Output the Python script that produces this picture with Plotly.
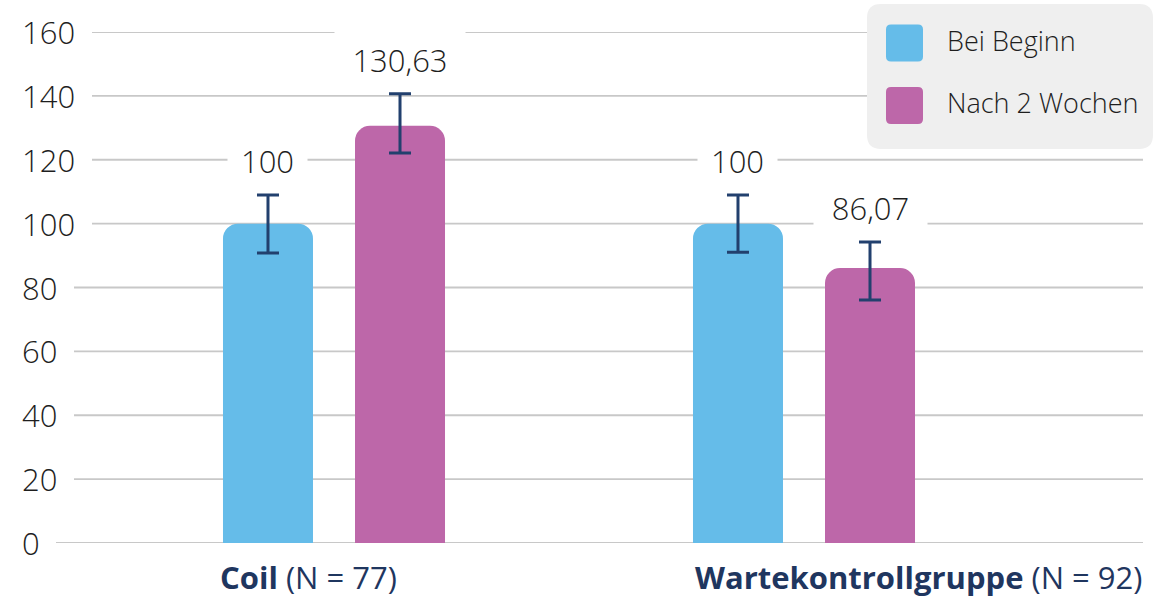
import plotly.graph_objects as go

# --- data ---
groups = ["Coil", "Wartekontrollgruppe"]
group_n = [77, 92]
series_names = ["Bei Beginn", "Nach 2 Wochen"]
bei_beginn = [100, 100]
nach_2_wochen = [130.63, 86.07]
err_beginn_plus = [9, 9]
err_beginn_minus = [9.2, 9]
err_nach_plus = [10, 8.2]
err_nach_minus = [8.5, 10]
y_ticks = [0, 20, 40, 60, 80, 100, 120, 140, 160]

# --- canvas geometry (pixels) ---
W, H = 1169, 597
ML, MR, MT, MB = 22, 26, 32, 54
PW, PH = W - ML - MR, H - MT - MB


def px(x):
    return (x - ML) / PW


def py(y):
    return (H - MB - y) / PH


def fmt(v):
    s = f"{v:.2f}".rstrip("0").rstrip(".")
    return s.replace(".", ",")


BLUE = "#65bce9"
MAGENTA = "#bd67a9"
NAVY = "#22406e"
TEXT = "#1e1e1e"
FONT = "Open Sans"

fig = go.Figure()

bar_w = 0.1915
offsets = [-0.2362, 0.0447]
for name, vals, ep, em, col, off in [
    (series_names[0], bei_beginn, err_beginn_plus, err_beginn_minus, BLUE, offsets[0]),
    (series_names[1], nach_2_wochen, err_nach_plus, err_nach_minus, MAGENTA, offsets[1]),
]:
    fig.add_trace(go.Bar(
        x=list(range(len(groups))), y=vals, name=name,
        width=bar_w, offset=off,
        marker=dict(color=col, line=dict(width=0), cornerradius=15),
        error_y=dict(type="data", array=ep, arrayminus=em, symmetric=False,
                     color=NAVY, thickness=3, width=11),
        showlegend=False, hoverinfo="skip",
    ))

shapes = []
annotations = []

# horizontal grid lines, each starting just after its left-aligned label
digit_w, gap = 18, 16
for t in y_ticks:
    lab = str(t)
    x0 = ML + len(lab) * digit_w + gap
    shapes.append(dict(type="line", xref="paper", yref="y",
                       x0=px(x0), x1=1, y0=t, y1=t,
                       line=dict(color="#c8c8c8", width=1.8), layer="below"))
    annotations.append(dict(xref="paper", yref="y", x=px(20), y=t,
                            text=lab, showarrow=False,
                            xanchor="left", yanchor="middle",
                            font=dict(family=FONT, size=31, color=TEXT, weight=300)))

# value labels above the error bars, on a white plate that hides the grid
for vals, ep, off in [(bei_beginn, err_beginn_plus, offsets[0]),
                      (nach_2_wochen, err_nach_plus, offsets[1])]:
    for i, v in enumerate(vals):
        lab = fmt(v)
        annotations.append(dict(xref="x", yref="y", x=i + off + bar_w / 2,
                                y=v + ep[i], yshift=34, text=lab,
                                showarrow=False, xanchor="center", yanchor="middle",
                                width=len(lab) * 17 + 26, height=58,
                                bgcolor="white", borderpad=1,
                                font=dict(family=FONT, size=31, color=TEXT, weight=300)))

# group labels under the axis
group_label_x = [308.5, 918]
for g, n, cx in zip(groups, group_n, group_label_x):
    annotations.append(dict(xref="paper", yref="paper", x=px(cx), y=py(577),
                            text=f"<b>{g}</b> (N = {n})", showarrow=False,
                            xanchor="center", yanchor="middle", borderpad=0,
                            font=dict(family=FONT, size=31, color="#1f365f", weight=400)))


def rounded_rect(x0, y0, x1, y1, r):
    # pixel coordinates -> paper coordinates path with rounded corners
    pts = [
        ("M", x0 + r, y0), ("L", x1 - r, y0), ("Q", x1, y0, x1, y0 + r),
        ("L", x1, y1 - r), ("Q", x1, y1, x1 - r, y1), ("L", x0 + r, y1),
        ("Q", x0, y1, x0, y1 - r), ("L", x0, y0 + r), ("Q", x0, y0, x0 + r, y0),
    ]
    out = []
    for p in pts:
        cmd, coords = p[0], p[1:]
        conv = []
        for k in range(0, len(coords), 2):
            conv.append(f"{px(coords[k]):.5f},{py(coords[k + 1]):.5f}")
        out.append(cmd + " ".join(conv))
    return " ".join(out) + " Z"


# legend panel
shapes.append(dict(type="path", xref="paper", yref="paper",
                   path=rounded_rect(867, 4, 1153, 149, 14),
                   fillcolor="#efefef", line=dict(width=0), layer="below"))
for name, col, yc in [(series_names[0], BLUE, 43), (series_names[1], MAGENTA, 105.5)]:
    shapes.append(dict(type="path", xref="paper", yref="paper",
                       path=rounded_rect(886, yc - 18.5, 923, yc + 18.5, 5),
                       fillcolor=col, line=dict(width=0), layer="below"))
    annotations.append(dict(xref="paper", yref="paper", x=px(945), y=py(yc - 3),
                            text=name, showarrow=False, xanchor="left", yanchor="middle",
                            font=dict(family=FONT, size=27, color=TEXT, weight=300)))

fig.update_layout(
    width=W, height=H,
    margin=dict(l=ML, r=MR, t=MT, b=MB, pad=0),
    paper_bgcolor="white", plot_bgcolor="white",
    barmode="group",
    xaxis=dict(range=[-(334 - ML) / 470, (W - MR - 334) / 470],
               showgrid=False, zeroline=False, showticklabels=False,
               showline=False, fixedrange=True),
    yaxis=dict(range=[0, 160], showgrid=False, zeroline=False,
               showticklabels=False, showline=False, fixedrange=True),
    shapes=shapes,
    annotations=annotations,
    showlegend=False,
)

fig.write_html("out.html")
